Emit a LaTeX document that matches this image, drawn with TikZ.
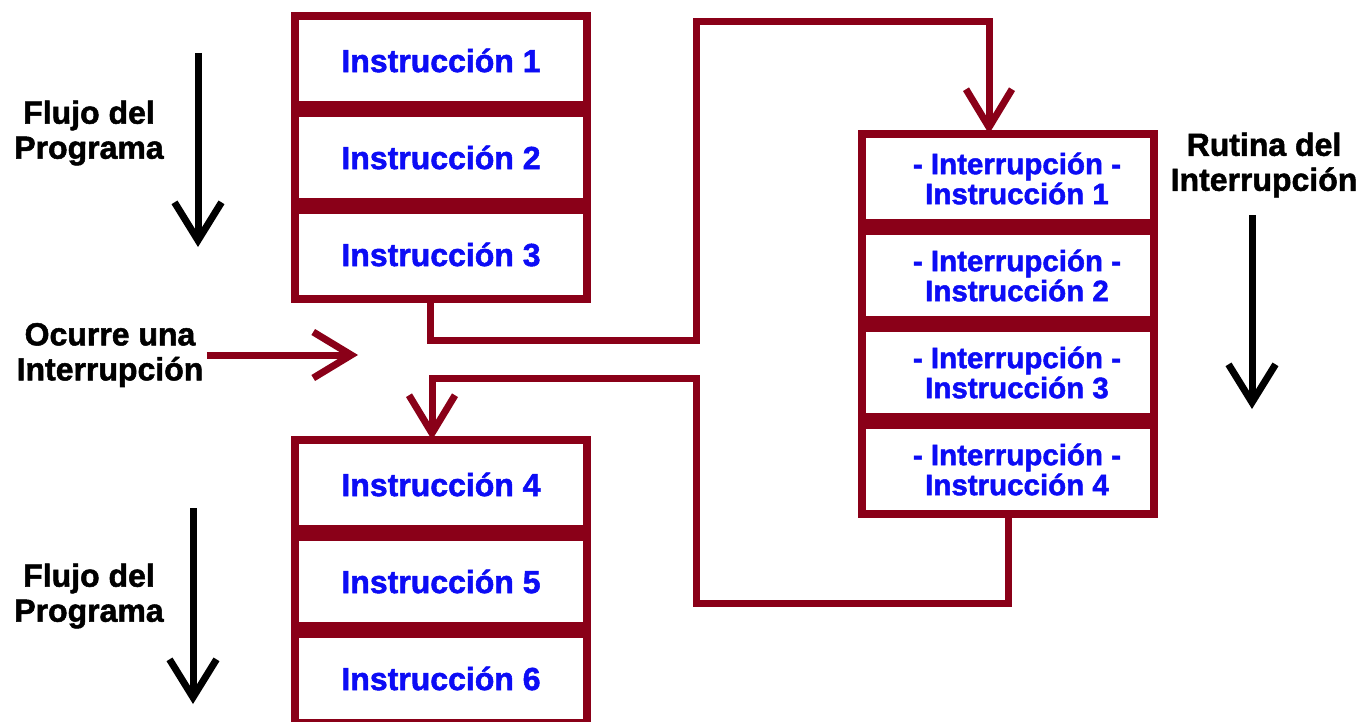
\documentclass[tikz,border=0pt]{standalone}
\usepackage{fontspec}
\setmainfont{Liberation Sans}[BoldFeatures={FakeBold=1.6}]
\usetikzlibrary{arrows.meta}
\definecolor{dred}{RGB}{138,0,24}
\definecolor{iblue}{RGB}{12,12,245}
\tikzset{
  box/.style={draw=dred, line width=8pt, fill=white, minimum width=292pt, minimum height=89pt, inner sep=0pt, outer sep=0pt},
  btxt/.style={text=iblue, font=\fontsize{32}{36}\selectfont\bfseries},
  rtxt/.style={text=iblue, font=\fontsize{29.5}{30}\selectfont\bfseries, align=center},
  lbl/.style={text=black, font=\fontsize{32}{35}\selectfont\bfseries, align=center},
  conn/.style={draw=dred, line width=7pt, line join=miter, -{Straight Barb[length=38pt,width=46pt]}},
  blk/.style={draw=black, line width=7pt, -{Straight Barb[length=38pt,width=47pt]}}
}
\begin{document}
\begin{tikzpicture}[x=1pt,y=-1pt]
\useasboundingbox (0,0) rectangle (1362,722);
\clip (0,0) rectangle (1362,722);
\fill[white] (0,0) rectangle (1362,722);
% left upper stack
\node[box] (b1) at (441,60.5) {};
\node[box] (b2) at (441,157.5) {};
\node[box] (b3) at (441,254.5) {};
\node[btxt] at (b1) {Instrucción 1};
\node[btxt] at (b2) {Instrucción 2};
\node[btxt] at (b3) {Instrucción 3};
% left lower stack
\node[box] (b4) at (441,484.5) {};
\node[box] (b5) at (441,581.5) {};
\node[box] (b6) at (441,678.5) {};
\node[btxt] at (b4) {Instrucción 4};
\node[btxt] at (b5) {Instrucción 5};
\node[btxt] at (b6) {Instrucción 6};
% right stack
\node[box] (r1) at (1008,178.5) {};
\node[box] (r2) at (1008,275.5) {};
\node[box] (r3) at (1008,372.5) {};
\node[box] (r4) at (1008,469.5) {};
\node[rtxt] at ([xshift=9pt]r1.center) {- Interrupción -\\Instrucción 1};
\node[rtxt] at ([xshift=9pt]r2.center) {- Interrupción -\\Instrucción 2};
\node[rtxt] at ([xshift=9pt]r3.center) {- Interrupción -\\Instrucción 3};
\node[rtxt] at ([xshift=9pt]r4.center) {- Interrupción -\\Instrucción 4};
% labels
\node[lbl] (fl1) at (89,133) {Flujo del\\Programa};
\node[lbl] (fl2) at (89,596) {Flujo del\\Programa};
\node[lbl] (oc) at (110,355) {Ocurre una\\Interrupción};
\node[lbl] (rt) at (1264,165) {Rutina del\\Interrupción};
% black flow arrows
\coordinate (f1s) at (198,53);
\coordinate (f1e) at (198,247);
\coordinate (f2s) at (193,508);
\coordinate (f2e) at (193,704);
\coordinate (f3s) at (1252,215);
\coordinate (f3e) at (1252,409);
\draw[blk] (f1s) -- (f1e);
\draw[blk] (f2s) -- (f2e);
\draw[blk] (f3s) -- (f3e);
% interruption arrow
\coordinate (oce) at (358,355);
\draw[conn] (oc.east) -- (oce);
% connectors
\draw[conn] ([xshift=-11pt]b3.south) |- (696,340) -- (696,22) -| ([xshift=-19pt]r1.north);
\draw[conn] (r4.south) |- (696,603) -- (696,378) -| ([xshift=-9pt]b4.north);
\end{tikzpicture}
\end{document}
